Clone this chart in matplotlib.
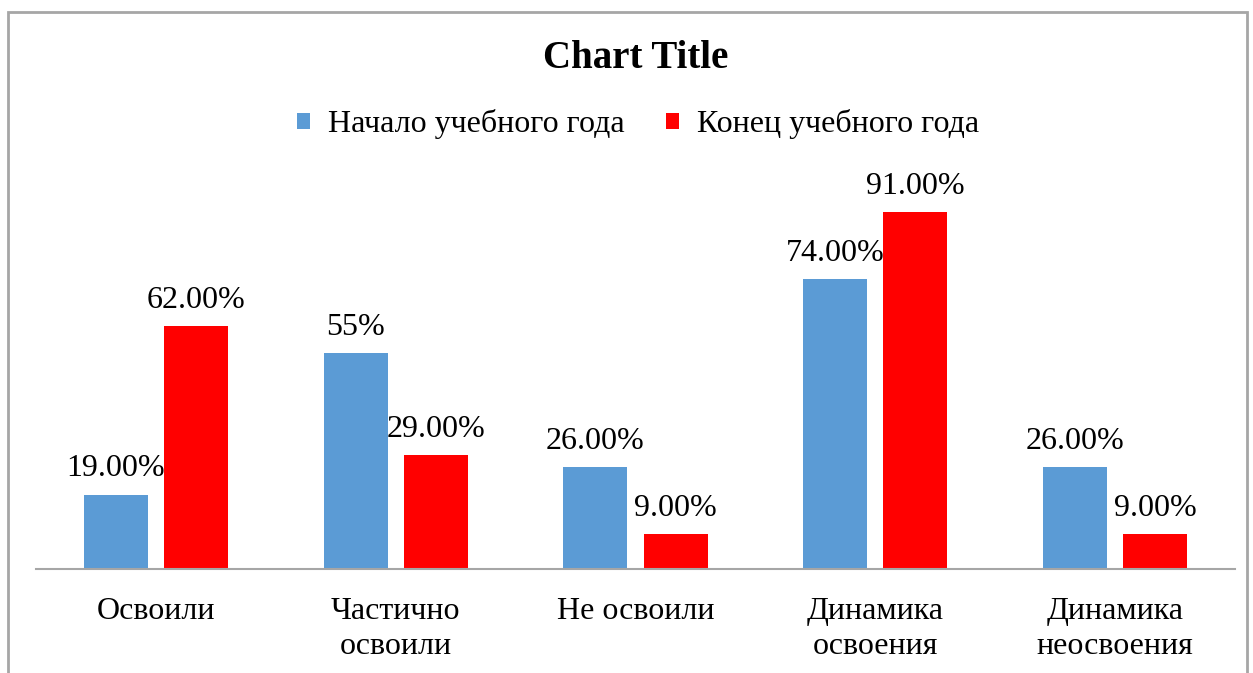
import numpy as np
import matplotlib
matplotlib.use('Agg')
import matplotlib.pyplot as plt
from matplotlib.patches import Rectangle

plt.rcParams['font.family'] = ['Liberation Serif', 'DejaVu Serif']

categories = ['Освоили', 'Частично\nосвоили', 'Не освоили', 'Динамика\nосвоения', 'Динамика\nнеосвоения']
start_values = [19, 55, 26, 74, 26]
end_values = [62, 29, 9, 91, 9]
start_labels = ['19.00%', '55%', '26.00%', '74.00%', '26.00%']
end_labels = ['62.00%', '29.00%', '9.00%', '91.00%', '9.00%']
series_names = ['Начало учебного года', 'Конец учебного года']

W, H = 1253, 673
fig = plt.figure(figsize=(W / 100, H / 100), dpi=100)

# outer chart border (bottom edge is cut off in the original)
fig.patches.append(Rectangle((7.5 / W, -0.05), (1247 - 7.5) / W, (H - 12) / H + 0.05,
                             transform=fig.transFigure, fill=False,
                             edgecolor='#A6A6A6', linewidth=2))

ax = fig.add_axes([36 / W, (H - 569) / H, (1235 - 36) / W, (569 - 177) / H])

x = np.arange(len(categories))
w = 0.267
off = 0.167
b1 = ax.bar(x - off, start_values, w, color='#5B9BD5', label=series_names[0])
b2 = ax.bar(x + off, end_values, w, color='#FF0000', label=series_names[1])

for bars, labels in [(b1, start_labels), (b2, end_labels)]:
    for rect, lab in zip(bars, labels):
        ax.annotate(lab, (rect.get_x() + rect.get_width() / 2, rect.get_height()),
                    xytext=(0, 8), textcoords='offset points',
                    ha='center', va='bottom', fontsize=23)

ax.set_xlim(-0.5, len(categories) - 0.5)
ax.set_ylim(0, 100)
ax.set_yticks([])
ax.set_xticks(x)
ax.set_xticklabels(categories, fontsize=23, linespacing=1.3)
ax.tick_params(axis='x', length=0, pad=20)
for s in ['top', 'right', 'left']:
    ax.spines[s].set_visible(False)
ax.spines['bottom'].set_color('#A6A6A6')
ax.spines['bottom'].set_linewidth(1.5)

fig.text(636 / W, 1 - 58 / H, 'Chart Title', ha='center', va='center',
         fontsize=28, fontweight='bold')
fig.legend(handles=[b1, b2], loc='center', bbox_to_anchor=(638 / W, 1 - 124 / H),
           ncol=2, frameon=False, fontsize=23, handlelength=0.4, handleheight=0.4,
           handletextpad=0.55, columnspacing=1.32)

fig.savefig('out.png', dpi=100)
